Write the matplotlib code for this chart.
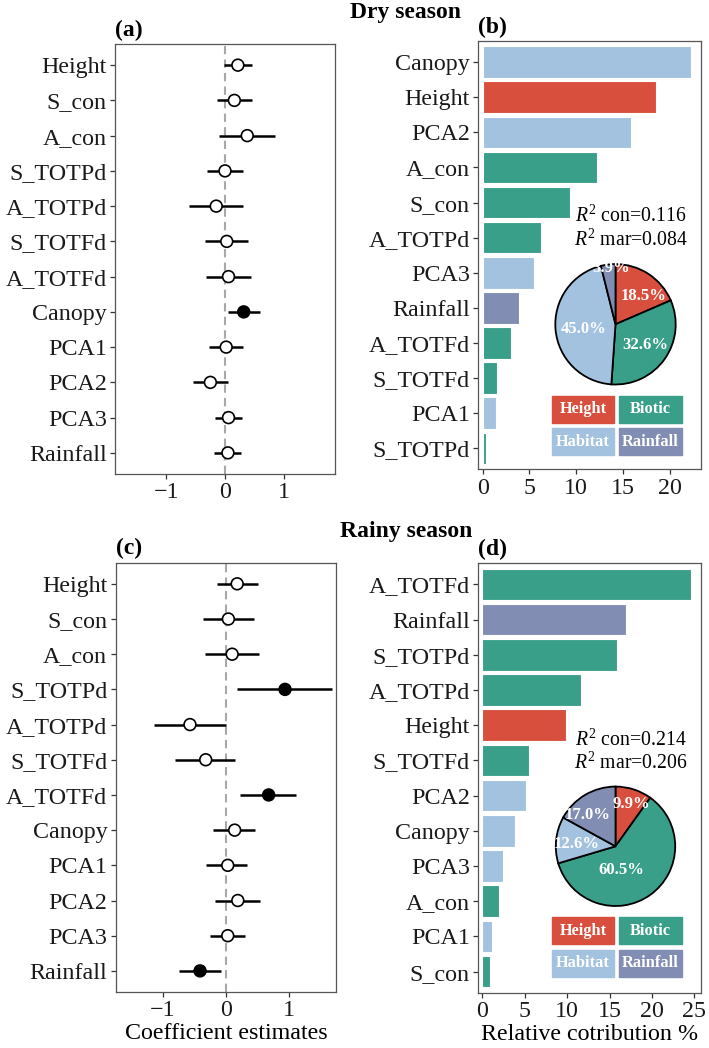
import numpy as np
import matplotlib.pyplot as plt
from matplotlib.patches import Rectangle

plt.rcParams['font.family'] = ['Liberation Serif', 'DejaVu Serif']
plt.rcParams['mathtext.fontset'] = 'custom'
plt.rcParams['mathtext.rm'] = 'Liberation Serif'
plt.rcParams['mathtext.it'] = 'Liberation Serif:italic'
plt.rcParams['axes.unicode_minus'] = True

# predictors, same order in (a) and (c)
variables = ["Height", "S_con", "A_con", "S_TOTPd", "A_TOTPd", "S_TOTFd",
             "A_TOTFd", "Canopy", "PCA1", "PCA2", "PCA3", "Rainfall"]

# dry season coefficient estimates with intervals
dry_est = [0.22, 0.16, 0.38, 0.00, -0.15, 0.03, 0.06, 0.32, 0.02, -0.25, 0.06, 0.05]
dry_low = [-0.02, -0.14, -0.10, -0.30, -0.62, -0.34, -0.33, 0.05, -0.27, -0.55, -0.17, -0.19]
dry_high = [0.46, 0.46, 0.86, 0.30, 0.31, 0.40, 0.44, 0.59, 0.30, 0.05, 0.29, 0.28]
dry_sig = [False, False, False, False, False, False, False, True, False, False, False, False]

# rainy season coefficient estimates with intervals
rainy_est = [0.18, 0.04, 0.10, 0.94, -0.57, -0.32, 0.68, 0.14, 0.03, 0.19, 0.03, -0.41]
rainy_low = [-0.14, -0.36, -0.33, 0.17, -1.14, -0.80, 0.23, -0.20, -0.31, -0.17, -0.25, -0.74]
rainy_high = [0.51, 0.45, 0.52, 1.69, 0.00, 0.14, 1.12, 0.47, 0.34, 0.54, 0.30, -0.08]
rainy_sig = [False, False, False, True, False, False, True, False, False, False, False, True]

# relative contributions (%)
dry_bar_vars = ["Canopy", "Height", "PCA2", "A_con", "S_con", "A_TOTPd",
                "PCA3", "Rainfall", "A_TOTFd", "S_TOTFd", "PCA1", "S_TOTPd"]
dry_bar_vals = [22.3, 18.5, 15.8, 12.2, 9.3, 6.2, 5.5, 3.9, 3.0, 1.55, 1.45, 0.3]
rainy_bar_vars = ["A_TOTFd", "Rainfall", "S_TOTPd", "A_TOTPd", "Height", "S_TOTFd",
                  "PCA2", "Canopy", "PCA3", "A_con", "PCA1", "S_con"]
rainy_bar_vals = [24.6, 17.0, 15.9, 11.6, 9.9, 5.5, 5.1, 3.8, 2.5, 1.95, 1.2, 0.95]

# grouped contributions for the pies
group_names = ["Height", "Biotic", "Habitat", "Rainfall"]
group_colors = ["#D84F3E", "#3A9F89", "#A3C2E0", "#818DB3"]
dry_pie = [18.5, 32.6, 45.0, 3.9]
rainy_pie = [9.9, 60.5, 12.6, 17.0]
dry_r2 = ["0.116", "0.084"]
rainy_r2 = ["0.214", "0.206"]

var_group = {"Height": "Height", "Rainfall": "Rainfall",
             "Canopy": "Habitat", "PCA1": "Habitat", "PCA2": "Habitat", "PCA3": "Habitat",
             "S_con": "Biotic", "A_con": "Biotic", "S_TOTPd": "Biotic",
             "A_TOTPd": "Biotic", "S_TOTFd": "Biotic", "A_TOTFd": "Biotic"}

W, H = 709, 1048
fig = plt.figure(figsize=(W / 100, H / 100), dpi=100)


def px_axes(x0, y0, x1, y1):
    # pixel box (top-left origin) -> figure axes
    return fig.add_axes([x0 / W, 1 - y1 / H, (x1 - x0) / W, (y1 - y0) / H])


def style(ax, tag):
    for s in ax.spines.values():
        s.set_color('#555555')
        s.set_linewidth(0.9)
    ax.tick_params(length=3.5, width=0.9, color='#333333', labelsize=17.3, pad=2.5,
                   labelcolor='#1a1a1a')
    ax.text(0, 1.008, tag, transform=ax.transAxes, fontsize=17,
            fontweight='bold', va='bottom', ha='left')


def forest(ax, est, low, high, sig, lim, tag):
    y = np.arange(1, len(variables) + 1)
    ax.axvline(0, color='#a8a8a8', lw=1.5, ls=(0, (4, 2.5)), zorder=1)
    ax.hlines(y, low, high, color='black', lw=1.8, zorder=2)
    face = ['black' if s else 'white' for s in sig]
    ax.scatter(est, y, s=72, c=face, edgecolors='black', linewidths=1.2, zorder=3)
    ax.set_yticks(y)
    ax.set_yticklabels(variables)
    ax.set_ylim(12.6, 0.4)
    ax.set_xlim(-lim, lim)
    ax.set_xticks([-1, 0, 1])
    style(ax, tag)


def bars(ax, names, vals, xmax, ticks, tag):
    y = np.arange(1, len(names) + 1)
    cols = [group_colors[group_names.index(var_group[n])] for n in names]
    ax.barh(y, vals, height=0.9, color=cols, edgecolor='white', linewidth=0.8)
    ax.set_yticks(y)
    ax.set_yticklabels(names)
    ax.set_ylim(12.6, 0.4)
    ax.set_xlim(-0.47, xmax)
    ax.set_xticks(ticks)
    style(ax, tag)


def pie(cx, cy, r, vals, rad, nudge):
    ax = px_axes(cx - r, cy - r, cx + r, cy + r)
    ax.pie(vals, colors=group_colors, startangle=90, counterclock=False,
           wedgeprops=dict(edgecolor='black', linewidth=1.3))
    ax.set_xlim(-1.03, 1.03)
    ax.set_ylim(-1.03, 1.03)
    cum = np.cumsum([0] + list(vals[:-1]))
    # labels sit near the slice middle, with a small angular nudge (degrees)
    for v, c, f, d in zip(vals, cum, rad, nudge):
        ang = np.deg2rad(90 - 360 * (c + v / 2) / sum(vals) + d)
        ax.text(f * np.cos(ang), f * np.sin(ang), "%.1f%%" % v, color='white',
                fontsize=12, fontweight='bold', ha='center', va='center')


def r2_text(cx, y1, y2, vals):
    fig.text(cx / W, 1 - y1 / H, r"$R^2$ con=" + vals[0], fontsize=14.2,
             ha='center', va='center')
    fig.text(cx / W, 1 - y2 / H, r"$R^2$ mar=" + vals[1], fontsize=14.2,
             ha='center', va='center')


def tiles(x0, y0):
    # legend tiles, 2 x 2
    tw, th, gx, gy = 62.3, 26.8, 5.3, 5.9
    for i, (name, col) in enumerate(zip(group_names, group_colors)):
        x = x0 + (i % 2) * (tw + gx)
        y = y0 + (i // 2) * (th + gy)
        fig.patches.append(Rectangle((x / W, 1 - (y + th) / H), tw / W, th / H,
                                     transform=fig.transFigure, color=col))
        fig.text((x + tw / 2) / W, 1 - (y + th / 2) / H, name, color='white',
                 fontsize=11.8, fontweight='bold', ha='center', va='center')


# (a) dry season coefficients
ax_a = px_axes(115, 44, 335, 474)
forest(ax_a, dry_est, dry_low, dry_high, dry_sig, 1.88, "(a)")

# (b) dry season contributions
ax_b = px_axes(478.3, 41, 700.7, 469.5)
bars(ax_b, dry_bar_vars, dry_bar_vals, 23.3, [0, 5, 10, 15, 20], "(b)")
r2_text(631, 216.7, 240, dry_r2)
pie(615.5, 324.3, 62, dry_pie, [0.66, 0.6, 0.54, 0.93], [-12, 1, 4, -3])
tiles(551.7, 395.7)

# (c) rainy season coefficients
ax_c = px_axes(115.7, 562.7, 336, 992)
forest(ax_c, rainy_est, rainy_low, rainy_high, rainy_sig, 1.75, "(c)")
ax_c.set_xlabel("Coefficient estimates", fontsize=17.3, labelpad=1.5)

# (d) rainy season contributions
ax_d = px_axes(478.3, 563.3, 700.7, 992.7)
bars(ax_d, rainy_bar_vars, rainy_bar_vals, 25.75, [0, 5, 10, 15, 20, 25], "(d)")
ax_d.set_xlabel("Relative cotribution %", fontsize=17.3, labelpad=1.5)
r2_text(631, 740, 763.3, rainy_r2)
pie(615.5, 846.3, 61.5, rainy_pie, [0.75, 0.41, 0.65, 0.7], [-3, -21, 2, 11])
tiles(551.7, 917.3)

# season titles
fig.text(406 / W, 1 - 18.3 / H, "Dry season", fontsize=17, fontweight='bold',
         ha='center', va='baseline')
fig.text(406 / W, 1 - 536.7 / H, "Rainy season", fontsize=17, fontweight='bold',
         ha='center', va='baseline')

fig.savefig('out.png', dpi=100)
